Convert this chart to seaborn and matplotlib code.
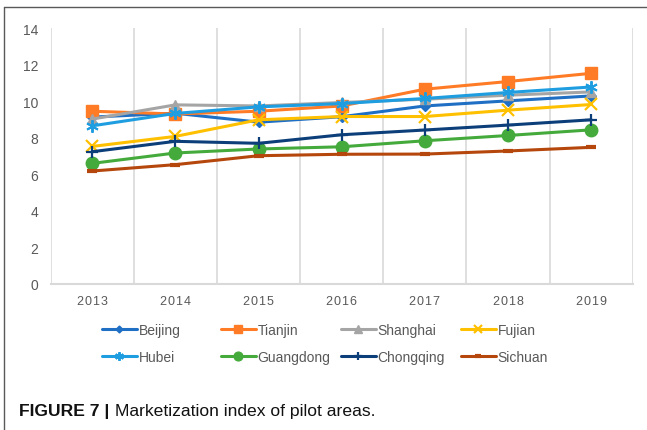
import matplotlib
matplotlib.use("Agg")
import matplotlib.pyplot as plt
from matplotlib.lines import Line2D
import seaborn as sns
import pandas as pd
import numpy as np

years = ["2013", "2014", "2015", "2016", "2017", "2018", "2019"]
beijing = [9.13, 9.34, 8.85, 9.15, 9.74, 10.02, 10.29]
tianjin = [9.45, 9.30, 9.45, 9.74, 10.66, 11.08, 11.53]
shanghai = [9.02, 9.80, 9.74, 9.93, 10.11, 10.33, 10.51]
fujian = [7.52, 8.07, 8.98, 9.16, 9.16, 9.51, 9.82]
hubei = [8.65, 9.33, 9.69, 9.87, 10.15, 10.48, 10.78]
guangdong = [6.59, 7.16, 7.38, 7.50, 7.83, 8.12, 8.43]
chongqing = [7.23, 7.80, 7.69, 8.16, 8.42, 8.69, 8.98]
sichuan = [6.17, 6.52, 7.01, 7.09, 7.10, 7.27, 7.47]

series_names = ["Beijing", "Tianjin", "Shanghai", "Fujian",
                "Hubei", "Guangdong", "Chongqing", "Sichuan"]
series_values = [beijing, tianjin, shanghai, fujian,
                 hubei, guangdong, chongqing, sichuan]

colors = ["#1F6FC5", "#FF7B26", "#A5A5A5", "#FFC000",
          "#1E9DE0", "#45AA3C", "#0C3F7A", "#B5470C"]
markers = ["D", "s", "^", "x", (6, 2, 0), "o", "+", "_"]
msizes = [5, 8, 7.5, 8, 9, 9, 9, 7]
mews = [1, 1, 1, 1.6, 1.4, 1, 1.6, 3]

sns.set_theme(style="white")
plt.rcParams["font.family"] = ["Liberation Sans", "DejaVu Sans"]

fig = plt.figure(figsize=(6.47, 4.31), dpi=100)
ax = fig.add_axes([50.7 / 647, 1 - 284.5 / 431, (632.7 - 50.7) / 647, (284.5 - 29.3) / 431])

xpos = np.arange(len(years))
for name, vals, c, m, ms, mw in zip(series_names, series_values, colors, markers, msizes, mews):
    df = pd.DataFrame({"x": xpos, "y": vals})
    sns.lineplot(data=df, x="x", y="y", ax=ax, color=c, marker=m, markersize=ms,
                 markeredgewidth=mw, markeredgecolor=c, markerfacecolor=c,
                 linewidth=2.2, label=name, legend=False)

ax.set_xlim(-0.5, len(years) - 0.5)
ax.set_ylim(0, 14)
ax.set_yticks(np.arange(0, 15, 2))
ax.set_xticks(xpos)
ax.set_xticklabels(["\u200a".join(list(y)) for y in years])
ax.set_xticks(np.arange(-0.5, len(years), 1), minor=True)
ax.grid(False)
ax.grid(True, which="minor", axis="x", color="#D9D9D9", linewidth=1.2)
ax.tick_params(axis="both", which="both", length=0)
ax.tick_params(axis="y", labelsize=10, labelcolor="#595959", pad=9)
ax.tick_params(axis="x", labelsize=9, labelcolor="#595959", pad=8)
ax.set_xlabel("")
ax.set_ylabel("")
for s in ["top", "right", "left"]:
    ax.spines[s].set_visible(False)
ax.spines["bottom"].set_color("#D9D9D9")
ax.spines["bottom"].set_linewidth(1.5)

handles, labels = ax.get_legend_handles_labels()
col_x = [102, 221, 341, 461]
for i, x0 in enumerate(col_x):
    hs = [handles[i], handles[i + 4]]
    ls = [labels[i], labels[i + 4]]
    leg = fig.legend(hs, ls, loc="upper left",
                     bbox_to_anchor=(x0 / 647, 1 - 324 / 431),
                     frameon=False, fontsize=10, handlelength=2.5,
                     handletextpad=0.12, labelspacing=0.95, borderpad=0,
                     borderaxespad=0, markerscale=0.7)
    for t in leg.get_texts():
        t.set_color("#595959")

# frame lines
fig.add_artist(Line2D([4 / 647, 1], [1 - 8 / 431, 1 - 8 / 431], color="#595959", linewidth=1))
fig.add_artist(Line2D([4 / 647, 4 / 647], [0, 1 - 8 / 431], color="#595959", linewidth=1))

# caption
t1 = fig.text(19 / 647, 1 - 412 / 431, "FIGURE 7 |", fontsize=12.6, fontweight="bold",
              color="#111111", va="center", ha="left")
fig.canvas.draw()
bb = t1.get_window_extent(renderer=fig.canvas.get_renderer())
fig.text((bb.x1 + 6) / 647, 1 - 412 / 431, "Marketization index of pilot areas.",
         fontsize=12.6, color="#111111", va="center", ha="left")

fig.savefig("out.png", dpi=100)
